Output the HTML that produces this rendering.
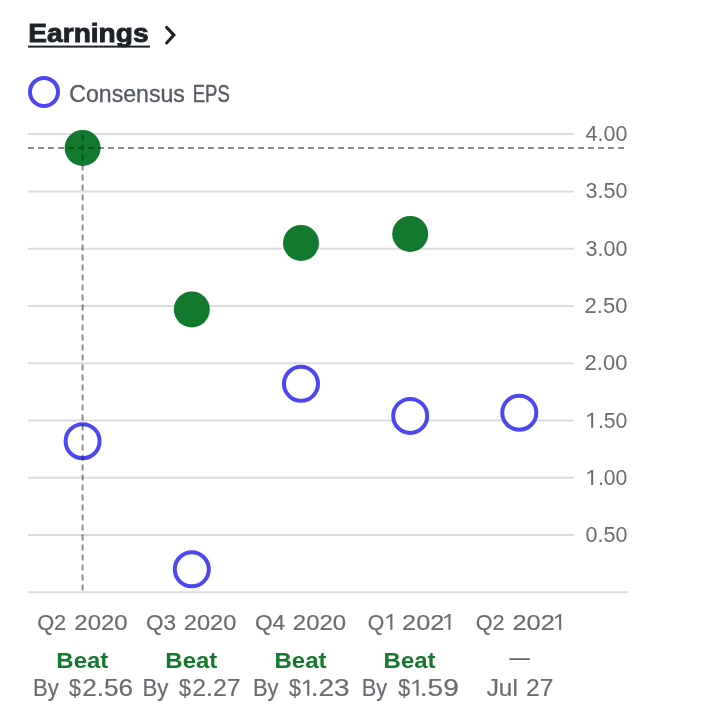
<!DOCTYPE html>
<html>
<head>
<meta charset="utf-8">
<title>Earnings</title>
<style>
html,body{margin:0;padding:0;background:#fff;}
body{width:706px;height:716px;overflow:hidden;font-family:"Liberation Sans",sans-serif;}
svg{display:block;will-change:transform;}
text{font-family:"Liberation Sans",sans-serif;}
.g{stroke:#dbdce2;stroke-width:2;}
.act{fill:#13792f;}
.con{fill:#fff;stroke:#4c47f2;stroke-width:4;}
.dash{stroke:#000;stroke-opacity:0.45;stroke-width:2;stroke-dasharray:6 4;fill:none;}
.din{stroke:#04531a;stroke-opacity:1;}
</style>
</head>
<body>
<svg width="706" height="716" viewBox="0 0 706 716">
<rect width="706" height="716" fill="#fff"/>
<!-- title underline + chevron -->
<rect x="28" y="45.6" width="122" height="2" fill="#1d2228"/>
<path d="M166.6 27.4 L173.9 35.1 L166.6 43" fill="none" stroke="#1d2228" stroke-width="3" stroke-linecap="round" stroke-linejoin="miter"/>
<!-- legend marker -->
<circle cx="44" cy="91.9" r="14" class="con"/>
<!-- gridlines -->
<g class="g">
<line x1="28" x2="574" y1="134.1" y2="134.1"/>
<line x1="28" x2="574" y1="191.4" y2="191.4"/>
<line x1="28" x2="574" y1="248.7" y2="248.7"/>
<line x1="28" x2="574" y1="306.0" y2="306.0"/>
<line x1="28" x2="574" y1="363.2" y2="363.2"/>
<line x1="28" x2="574" y1="420.4" y2="420.4"/>
<line x1="28" x2="574" y1="477.7" y2="477.7"/>
<line x1="28" x2="574" y1="535.0" y2="535.0"/>
<line x1="28" x2="628" y1="592.3" y2="592.3"/>
</g>
<!-- points -->
<circle class="act" cx="82.6" cy="147.9" r="18"/>
<circle class="act" cx="191.8" cy="309.4" r="18"/>
<circle class="act" cx="301" cy="242.9" r="18"/>
<circle class="act" cx="410.2" cy="233.9" r="18"/>
<circle class="con" cx="82.6" cy="441.2" r="17"/>
<circle class="con" cx="191.8" cy="569.3" r="17"/>
<circle class="con" cx="301" cy="383.8" r="17"/>
<circle class="con" cx="410.2" cy="415.9" r="17"/>
<circle class="con" cx="519.3" cy="412.7" r="17"/>
<!-- crosshair -->
<defs>
<clipPath id="cin"><circle cx="82.6" cy="147.9" r="18"/></clipPath>
<clipPath id="cout"><path clip-rule="evenodd" d="M0 0H706V716H0Z M100.6 147.9A18 18 0 1 0 64.6 147.9A18 18 0 1 0 100.6 147.9Z"/></clipPath>
</defs>
<g clip-path="url(#cout)">
<line class="dash" x1="28" x2="624" y1="147.9" y2="147.9"/>
<line class="dash" x1="82.6" x2="82.6" y1="134.4" y2="591"/>
</g>
<g clip-path="url(#cin)" style="stroke-opacity:1">
<line class="dash din" x1="28" x2="624" y1="147.9" y2="147.9"/>
<line class="dash din" x1="82.6" x2="82.6" y1="134.4" y2="591"/>
</g>
<!-- no-data dash -->
<rect x="509.3" y="658.3" width="20.6" height="1.6" fill="#55585d"/>
<!-- text -->
<text x="37.13" y="629.7" font-size="22.6" font-weight="normal" fill="#6a6c71" stroke="#6a6c71" stroke-width="0.2" textLength="29.11" lengthAdjust="spacingAndGlyphs">Q2</text>
<text x="74.34" y="629.7" font-size="22.6" font-weight="normal" fill="#6a6c71" stroke="#6a6c71" stroke-width="0.2" textLength="53.36" lengthAdjust="spacingAndGlyphs">2020</text>
<text x="146.00" y="629.7" font-size="22.6" font-weight="normal" fill="#6a6c71" stroke="#6a6c71" stroke-width="0.2" textLength="30.06" lengthAdjust="spacingAndGlyphs">Q3</text>
<text x="183.85" y="629.7" font-size="22.6" font-weight="normal" fill="#6a6c71" stroke="#6a6c71" stroke-width="0.2" textLength="52.54" lengthAdjust="spacingAndGlyphs">2020</text>
<text x="254.90" y="629.7" font-size="22.6" font-weight="normal" fill="#6a6c71" stroke="#6a6c71" stroke-width="0.2" textLength="30.27" lengthAdjust="spacingAndGlyphs">Q4</text>
<text x="292.84" y="629.7" font-size="22.6" font-weight="normal" fill="#6a6c71" stroke="#6a6c71" stroke-width="0.2" textLength="53.26" lengthAdjust="spacingAndGlyphs">2020</text>
<text x="367.86" y="629.7" font-size="22.6" font-weight="normal" fill="#6a6c71" stroke="#6a6c71" stroke-width="0.2" textLength="16.48" lengthAdjust="spacingAndGlyphs">Q</text>
<text x="402.08" y="629.7" font-size="22.6" font-weight="normal" fill="#6a6c71" stroke="#6a6c71" stroke-width="0.2" textLength="42.15" lengthAdjust="spacingAndGlyphs">202</text>
<text x="475.74" y="629.7" font-size="22.6" font-weight="normal" fill="#6a6c71" stroke="#6a6c71" stroke-width="0.2" textLength="28.80" lengthAdjust="spacingAndGlyphs">Q2</text>
<text x="512.47" y="629.7" font-size="22.6" font-weight="normal" fill="#6a6c71" stroke="#6a6c71" stroke-width="0.2" textLength="42.46" lengthAdjust="spacingAndGlyphs">202</text>
<text x="56.39" y="667.8" font-size="22.7" font-weight="bold" fill="#13792f" textLength="51.89" lengthAdjust="spacingAndGlyphs">Beat</text>
<text x="165.39" y="667.8" font-size="22.7" font-weight="bold" fill="#13792f" textLength="51.89" lengthAdjust="spacingAndGlyphs">Beat</text>
<text x="274.59" y="667.8" font-size="22.7" font-weight="bold" fill="#13792f" textLength="51.89" lengthAdjust="spacingAndGlyphs">Beat</text>
<text x="383.64" y="667.8" font-size="22.7" font-weight="bold" fill="#13792f" textLength="51.89" lengthAdjust="spacingAndGlyphs">Beat</text>
<text x="32.94" y="695.8" font-size="23.2" font-weight="normal" fill="#6a6c71" stroke="#6a6c71" stroke-width="0.2" textLength="25.87" lengthAdjust="spacingAndGlyphs">By</text>
<text x="69.00" y="695.8" font-size="23.2" font-weight="normal" fill="#6a6c71" stroke="#6a6c71" stroke-width="0.2" textLength="11.90" lengthAdjust="spacingAndGlyphs">$</text>
<text x="82.17" y="695.8" font-size="23.2" font-weight="normal" fill="#6a6c71" stroke="#6a6c71" stroke-width="0.2" textLength="50.94" lengthAdjust="spacingAndGlyphs">2.56</text>
<text x="142.54" y="695.8" font-size="23.2" font-weight="normal" fill="#6a6c71" stroke="#6a6c71" stroke-width="0.2" textLength="25.97" lengthAdjust="spacingAndGlyphs">By</text>
<text x="179.00" y="695.8" font-size="23.2" font-weight="normal" fill="#6a6c71" stroke="#6a6c71" stroke-width="0.2" textLength="11.90" lengthAdjust="spacingAndGlyphs">$</text>
<text x="192.23" y="695.8" font-size="23.2" font-weight="normal" fill="#6a6c71" stroke="#6a6c71" stroke-width="0.2" textLength="48.33" lengthAdjust="spacingAndGlyphs">2.27</text>
<text x="252.96" y="695.8" font-size="23.2" font-weight="normal" fill="#6a6c71" stroke="#6a6c71" stroke-width="0.2" textLength="25.56" lengthAdjust="spacingAndGlyphs">By</text>
<text x="289.00" y="695.8" font-size="23.2" font-weight="normal" fill="#6a6c71" stroke="#6a6c71" stroke-width="0.2" textLength="11.90" lengthAdjust="spacingAndGlyphs">$</text>
<text x="310.69" y="695.8" font-size="23.2" font-weight="normal" fill="#6a6c71" stroke="#6a6c71" stroke-width="0.2" textLength="38.89" lengthAdjust="spacingAndGlyphs">.23</text>
<text x="361.76" y="695.8" font-size="23.2" font-weight="normal" fill="#6a6c71" stroke="#6a6c71" stroke-width="0.2" textLength="25.46" lengthAdjust="spacingAndGlyphs">By</text>
<text x="398.20" y="695.8" font-size="23.2" font-weight="normal" fill="#6a6c71" stroke="#6a6c71" stroke-width="0.2" textLength="11.90" lengthAdjust="spacingAndGlyphs">$</text>
<text x="419.78" y="695.8" font-size="23.2" font-weight="normal" fill="#6a6c71" stroke="#6a6c71" stroke-width="0.2" textLength="39.00" lengthAdjust="spacingAndGlyphs">.59</text>
<text x="486.70" y="695.8" font-size="23.2" font-weight="normal" fill="#6a6c71" stroke="#6a6c71" stroke-width="0.2" textLength="31.11" lengthAdjust="spacingAndGlyphs">Jul</text>
<text x="526.14" y="695.8" font-size="23.2" font-weight="normal" fill="#6a6c71" stroke="#6a6c71" stroke-width="0.2" textLength="27.31" lengthAdjust="spacingAndGlyphs">27</text>
<text x="585.60" y="140.7" font-size="21.8" font-weight="normal" fill="#6a6c71" textLength="41.82" lengthAdjust="spacingAndGlyphs">4.00</text>
<text x="585.60" y="198.3" font-size="21.8" font-weight="normal" fill="#6a6c71" textLength="41.82" lengthAdjust="spacingAndGlyphs">3.50</text>
<text x="585.60" y="255.6" font-size="21.8" font-weight="normal" fill="#6a6c71" textLength="41.82" lengthAdjust="spacingAndGlyphs">3.00</text>
<text x="584.59" y="312.9" font-size="21.8" font-weight="normal" fill="#6a6c71" textLength="42.83" lengthAdjust="spacingAndGlyphs">2.50</text>
<text x="584.59" y="370.1" font-size="21.8" font-weight="normal" fill="#6a6c71" textLength="42.83" lengthAdjust="spacingAndGlyphs">2.00</text>
<text x="597.93" y="427.8" font-size="21.8" font-weight="normal" fill="#6a6c71" textLength="29.49" lengthAdjust="spacingAndGlyphs">.50</text>
<text x="597.93" y="485.0" font-size="21.8" font-weight="normal" fill="#6a6c71" textLength="29.49" lengthAdjust="spacingAndGlyphs">.00</text>
<text x="585.60" y="542.1" font-size="21.8" font-weight="normal" fill="#6a6c71" textLength="41.82" lengthAdjust="spacingAndGlyphs">0.50</text>
<text x="69.31" y="101.6" font-size="23.3" font-weight="normal" fill="#565c63" stroke="#565c63" stroke-width="0.35" textLength="115.53" lengthAdjust="spacingAndGlyphs">Consensus</text>
<text x="192.71" y="101.6" font-size="23.3" font-weight="normal" fill="#565c63" stroke="#565c63" stroke-width="0.45" textLength="37.02" lengthAdjust="spacingAndGlyphs">EPS</text>
<text x="28.32" y="42.3" font-size="26" font-weight="bold" fill="#1d2228" stroke="#1d2228" stroke-width="0.9" textLength="120.28" lengthAdjust="spacingAndGlyphs">Earnings</text>
<path d="M392.40 614.10 L392.40 629.70 L390.30 629.70 L390.30 616.50 L386.40 618.80 L386.00 617.20 L390.70 614.10Z" fill="#6a6c71"/>
<path d="M450.50 614.10 L450.50 629.70 L448.40 629.70 L448.40 616.50 L444.50 618.80 L444.10 617.20 L448.80 614.10Z" fill="#6a6c71"/>
<path d="M561.20 614.10 L561.20 629.70 L559.10 629.70 L559.10 616.50 L555.20 618.80 L554.80 617.20 L559.50 614.10Z" fill="#6a6c71"/>
<path d="M309.30 679.80 L309.30 695.80 L307.15 695.80 L307.15 682.26 L303.15 684.62 L302.74 682.98 L307.56 679.80Z" fill="#6a6c71"/>
<path d="M418.60 679.80 L418.60 695.80 L416.45 695.80 L416.45 682.26 L412.45 684.62 L412.04 682.98 L416.86 679.80Z" fill="#6a6c71"/>
<path d="M593.20 412.80 L593.20 427.80 L591.18 427.80 L591.18 415.11 L587.43 417.32 L587.05 415.78 L591.57 412.80Z" fill="#6a6c71"/>
<path d="M593.20 470.00 L593.20 485.00 L591.18 485.00 L591.18 472.31 L587.43 474.52 L587.05 472.98 L591.57 470.00Z" fill="#6a6c71"/>
</svg>
</body>
</html>
